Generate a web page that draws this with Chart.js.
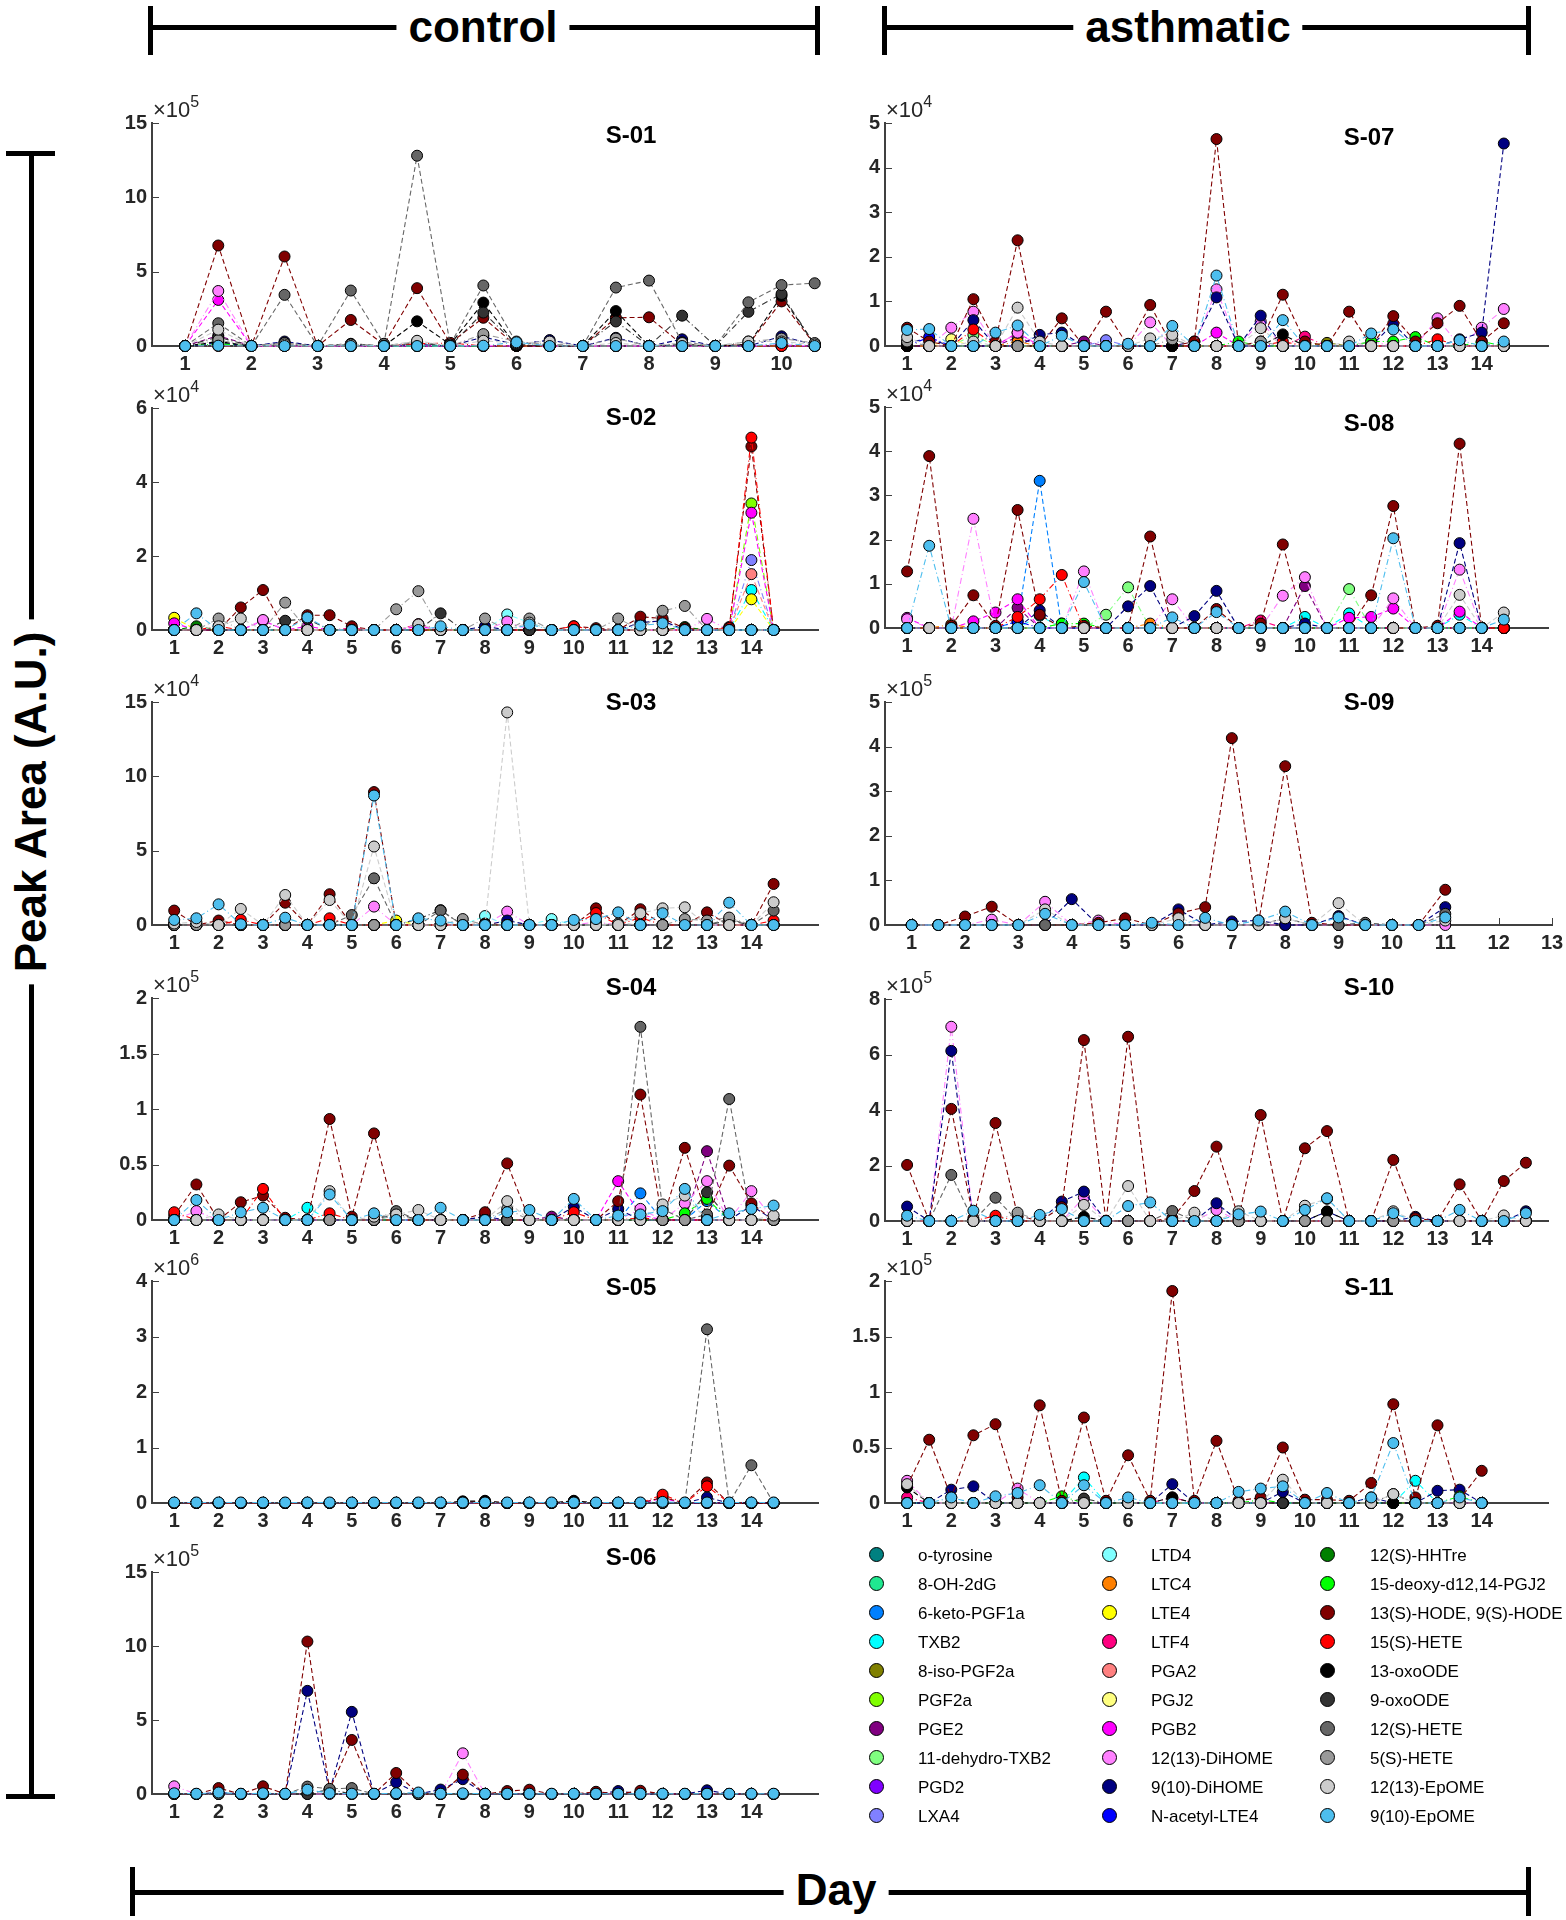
<!DOCTYPE html>
<html><head><meta charset="utf-8">
<script src="https://cdn.jsdelivr.net/npm/chart.js@4.4.1/dist/chart.umd.min.js"></script>
<style>
body{margin:0;background:#fff;width:1566px;height:1920px;position:relative;overflow:hidden;font-family:'Liberation Sans',Arial,sans-serif;}
.abs{position:absolute;}
canvas{position:absolute;}
.bar{position:absolute;background:#000;}
.hdr{position:absolute;font-weight:bold;font-size:44px;background:#fff;line-height:1;white-space:nowrap;transform:translate(-50%,-50%);padding:0 12px;color:#000;}
.ttl{position:absolute;font-weight:bold;font-size:24px;line-height:1;transform:translate(-50%,-50%);color:#000;}
.exp{position:absolute;font-size:22px;line-height:22px;color:#262626;white-space:nowrap;}
.exp sup{font-size:16px;position:relative;top:-5px;vertical-align:top;line-height:16px;}
.lgm{position:absolute;width:13px;height:13px;border:1.5px solid #000;border-radius:50%;}
.lgt{position:absolute;font-size:17px;line-height:1;color:#000;transform:translateY(-50%);white-space:nowrap;}
</style></head><body>
<script>
// ---------- series (legend) ----------
const seriesNames = ['o-tyrosine','8-OH-2dG','6-keto-PGF1a','TXB2','8-iso-PGF2a','PGF2a','PGE2','11-dehydro-TXB2','PGD2','LXA4',
 'LTD4','LTC4','LTE4','LTF4','PGA2','PGJ2','PGB2','12(13)-DiHOME','9(10)-DiHOME','N-acetyl-LTE4',
 '12(S)-HHTre','15-deoxy-d12,14-PGJ2','13(S)-HODE, 9(S)-HODE','15(S)-HETE','13-oxoODE','9-oxoODE','12(S)-HETE','5(S)-HETE','12(13)-EpOME','9(10)-EpOME'];
const seriesColors = ['#008080','#20e890','#0080ff','#00ffff','#808000','#80ff00','#800080','#80ff80','#8000ff','#8080ff',
 '#80ffff','#ff8000','#ffff00','#ff0080','#ff8080','#ffff80','#ff00ff','#ff80ff','#000080','#0000ff',
 '#008000','#00ff00','#800000','#ff0000','#000000','#333333','#666666','#999999','#cccccc','#4dbeee'];

// ---------- x positions (days) and tick labels ----------
const days_1_to_10_5 = [1,1.5,2,2.5,3,3.5,4,4.5,5,5.5,6,6.5,7,7.5,8,8.5,9,9.5,10,10.5];
const days_1_to_14_5 = [1,1.5,2,2.5,3,3.5,4,4.5,5,5.5,6,6.5,7,7.5,8,8.5,9,9.5,10,10.5,11,11.5,12,12.5,13,13.5,14,14.5];
const days_1_to_11 = [1,1.5,2,2.5,3,3.5,4,4.5,5,5.5,6,6.5,7,7.5,8,8.5,9,9.5,10,10.5,11];
const days_1_to_15 = [1,1.5,2,2.5,3,3.5,4,4.5,5,5.5,6,6.5,7,7.5,8,8.5,9,9.5,10,10.5,11,11.5,12,12.5,13,13.5,14,14.5,15];
const days_1_to_14 = [1,1.5,2,2.5,3,3.5,4,4.5,5,5.5,6,6.5,7,7.5,8,8.5,9,9.5,10,10.5,11,11.5,12,12.5,13,13.5,14];
const xTicks10 = [1,2,3,4,5,6,7,8,9,10];
const xTicks13 = [1,2,3,4,5,6,7,8,9,10,11,12,13];
const xTicks14 = [1,2,3,4,5,6,7,8,9,10,11,12,13,14];
const yTicks15 = [0,5,10,15];
const yTicks6 = [0,2,4,6];
const yTicks2 = [0,0.5,1,1.5,2];
const yTicks4 = [0,1,2,3,4];
const yTicks5 = [0,1,2,3,4,5];
const yTicks8 = [0,2,4,6,8];

// ---------- S-01 (x10^5) ----------
const S01_series = ['PGE2','PGB2','12(13)-DiHOME','9(10)-DiHOME','15-deoxy-d12,14-PGJ2','13(S)-HODE, 9(S)-HODE','15(S)-HETE','13-oxoODE','9-oxoODE','12(S)-HETE','5(S)-HETE','12(13)-EpOME','9(10)-EpOME'];
const S01_values = [
 [0,0.7,0,0,0,0,0,0,0,0,0,0,0,0,0,0,0,0,0,0],
 [0,3.1,0,0,0,0,0,0,0,0,0,0,0,0,0,0,0,0,0,0],
 [0,3.7,0,0,0,0,0,0.05,0,0.05,0,0,0,0,0,0,0,0,0.1,0],
 [0,0.2,0,0.3,0,0.05,0,0.1,0,0.6,0.1,0.4,0,0.55,0,0.45,0,0,0.65,0.1],
 [0,0.15,0,0,0,0,0,0,0,0,0,0,0,0,0,0,0,0,0,0],
 [0,6.76,0,6.02,0,1.75,0.1,3.89,0.2,1.9,0,0,0,1.9,1.93,0.1,0,0.1,3.0,0.1],
 [0,0,0,0,0,0,0,0.15,0.2,0,0,0,0,0,0,0,0,0,0,0],
 [0,0.3,0,0.1,0,0.15,0,1.66,0.1,2.92,0,0,0,2.35,0,0.1,0,0.1,3.37,0.1],
 [0,0.6,0,0.2,0,0.1,0,0.2,0,2.25,0.1,0,0,1.65,0,2.04,0,2.3,3.5,0.1],
 [0,1.53,0,3.44,0,3.73,0.15,12.8,0.1,4.07,0.2,0.1,0,3.93,4.4,0.25,0,2.94,4.1,4.22],
 [0,0.4,0,0.2,0,0.1,0,0.3,0,0.8,0.3,0.1,0,0.5,0,0.2,0,0.3,0.5,0.2],
 [0,1.1,0,0.1,0,0.1,0,0.35,0,0.35,0.2,0.3,0,0.2,0,0.2,0,0.3,0.3,0.1],
 [0,0.02,0,0,0,0,0,0,0,0.02,0.25,0,0,0,0,0,0,0,0.2,0]
];

// ---------- S-02 (x10^4) ----------
const S02_series = ['TXB2','PGF2a','LXA4','LTD4','LTE4','LTF4','PGA2','PGB2','12(13)-DiHOME','9(10)-DiHOME','12(S)-HHTre','13(S)-HODE, 9(S)-HODE','15(S)-HETE','9-oxoODE','5(S)-HETE','12(13)-EpOME','9(10)-EpOME'];
const S02_values = [
 [0,0, 0,0, 0,0, 0,0, 0,0, 0,0, 0,0, 0,0, 0,0, 0,0, 0,0, 0,0, 0,0, 1.08,0],
 [0,0, 0,0, 0,0, 0,0, 0,0, 0,0, 0,0, 0,0, 0,0, 0,0, 0,0, 0,0, 0,0, 3.42,0],
 [0,0, 0,0, 0,0, 0,0, 0,0, 0,0, 0,0, 0,0, 0,0, 0,0, 0,0, 0,0, 0,0, 1.89,0],
 [0,0, 0,0, 0,0, 0,0, 0,0, 0,0, 0,0, 0,0.42, 0.2,0, 0,0, 0,0, 0,0, 0,0, 0,0],
 [0.33,0, 0,0, 0,0, 0,0, 0,0, 0,0, 0,0, 0,0, 0,0, 0,0, 0,0, 0,0, 0,0, 0.83,0],
 [0,0, 0,0, 0,0, 0,0, 0.05,0, 0,0.16, 0,0, 0,0, 0,0, 0,0, 0,0, 0,0, 0,0, 0,0],
 [0,0, 0,0, 0,0, 0,0, 0,0, 0,0, 0,0, 0,0, 0,0, 0,0, 0,0, 0,0, 0,0, 1.51,0],
 [0.18,0, 0,0, 0.25,0, 0.1,0, 0,0, 0,0.1, 0,0, 0,0, 0,0, 0,0, 0,0, 0,0, 0,0, 3.17,0],
 [0,0, 0,0, 0.27,0, 0,0, 0,0, 0,0, 0,0, 0,0.23, 0,0, 0,0, 0,0, 0,0, 0.3,0, 0,0],
 [0,0, 0,0, 0,0, 0,0, 0,0, 0,0, 0,0, 0.1,0, 0,0, 0,0, 0,0.2, 0.25,0, 0,0, 0,0],
 [0,0.1, 0,0, 0,0, 0,0, 0,0, 0,0, 0,0, 0,0, 0,0, 0,0, 0,0, 0,0.08, 0,0, 0,0],
 [0,0, 0,0.61, 1.08,0, 0.4,0.4, 0.1,0, 0,0, 0,0, 0,0, 0,0, 0.1,0.05, 0,0.36, 0.31,0.05, 0,0.08, 4.96,0],
 [0,0, 0.1,0, 0,0, 0,0, 0,0, 0,0, 0,0, 0,0, 0,0, 0.1,0, 0,0, 0,0, 0,0.05, 5.2,0],
 [0,0, 0,0, 0,0.25, 0.3,0, 0,0, 0,0, 0.45,0, 0,0, 0,0, 0,0, 0,0, 0,0, 0,0, 0,0],
 [0,0, 0.31,0, 0,0.74, 0,0, 0,0, 0.56,1.05, 0,0, 0.31,0, 0.31,0, 0,0, 0.31,0, 0.52,0.65, 0,0, 0,0],
 [0,0, 0.1,0.31, 0,0, 0,0, 0,0, 0,0.15, 0,0, 0,0, 0.2,0, 0,0, 0,0, 0,0, 0,0, 0,0],
 [0,0.45, 0,0, 0,0, 0.34,0, 0,0, 0,0, 0.1,0, 0,0, 0.15,0, 0,0, 0,0.12, 0.18,0, 0,0, 0,0]
];

// ---------- S-03 (x10^4) ----------
const S03_series = ['LTD4','LTE4','12(13)-DiHOME','9(10)-DiHOME','13(S)-HODE, 9(S)-HODE','15(S)-HETE','9-oxoODE','12(S)-HETE','5(S)-HETE','12(13)-EpOME','9(10)-EpOME'];
const S03_values = [
 [0,0, 0,0, 0,0, 0,0, 0,0, 0,0, 0,0, 0.6,0, 0,0.4, 0,0, 0,0, 0,0, 0,0, 0,0],
 [0,0, 0,0, 0,0, 0,0, 0,0, 0.3,0, 0,0, 0,0, 0,0, 0,0, 0,0, 0,0, 0,0, 0,0],
 [0,0, 0,0, 0,0, 0,0, 0,1.24, 0,0, 0,0, 0,0.9, 0,0, 0,0.2, 0,0, 0,0, 0,0, 0,0],
 [0,0, 0,0, 0,0, 0,0, 0,0, 0,0, 0,0, 0,0.3, 0,0, 0,0, 0,0, 0,0, 0,0, 0,0],
 [0.97,0, 0.3,0, 0,1.5, 0,2.07, 0,8.94, 0,0, 0,0, 0.1,0, 0,0, 0,1.12, 0,1.06, 0,0, 0.85,0, 0,2.76],
 [0,0, 0,0.35, 0,0, 0,0.45, 0,0, 0,0, 0,0, 0,0, 0,0, 0,0.8, 0,0.5, 0,0, 0,0, 0,0.3],
 [0,0, 0,0, 0,0, 0,0, 0,0, 0,0.4, 1.0,0, 0,0, 0,0, 0,0, 0,0, 0,0, 0,0.3, 0,0],
 [0,0, 0,0, 0,0, 0,0, 0.67,3.14, 0,0, 0.97,0, 0,0, 0,0, 0,0, 0,0, 0,0, 0,0.4, 0,0.97],
 [0,0, 0,0, 0,0, 0,0, 0,0, 0,0, 0,0.4, 0,0, 0,0, 0,0, 0.1,0, 0,0.4, 0.3,0.5, 0,0],
 [0.1,0.2, 0,1.08, 0,2.02, 0,1.68, 0,5.28, 0,0, 0,0, 0,14.3, 0,0, 0,0, 0,0.79, 1.12,1.19, 0,0, 0,1.53],
 [0.34,0.45, 1.39,0.05, 0,0.49, 0,0, 0,8.71, 0,0.45, 0.3,0, 0,0, 0,0, 0.34,0.4, 0.85,0, 0.79,0, 0,1.5, 0,0]
];

// ---------- S-04 (x10^5) ----------
const S04_series = ['6-keto-PGF1a','TXB2','PGE2','PGB2','12(13)-DiHOME','9(10)-DiHOME','15-deoxy-d12,14-PGJ2','13(S)-HODE, 9(S)-HODE','15(S)-HETE','9-oxoODE','12(S)-HETE','5(S)-HETE','12(13)-EpOME','9(10)-EpOME'];
const S04_values = [
 [0,0, 0,0, 0,0, 0,0, 0,0, 0,0, 0,0, 0,0, 0,0, 0,0, 0,0.24, 0,0, 0.17,0, 0,0],
 [0,0, 0,0, 0,0, 0.11,0, 0,0, 0,0, 0,0, 0,0, 0,0, 0,0, 0,0, 0,0, 0,0, 0,0],
 [0,0, 0,0, 0,0, 0,0, 0,0, 0,0, 0,0, 0,0, 0,0.03, 0,0, 0,0, 0,0, 0.62,0, 0,0],
 [0,0, 0,0, 0,0, 0,0, 0,0, 0,0, 0,0, 0,0, 0,0, 0,0, 0.35,0.05, 0,0, 0,0, 0,0],
 [0,0.08, 0,0, 0,0, 0,0, 0,0, 0,0, 0,0, 0,0, 0,0, 0,0, 0,0.1, 0,0.15, 0.35,0, 0.26,0],
 [0,0, 0,0, 0,0, 0,0, 0,0, 0,0, 0,0, 0.03,0, 0,0, 0.12,0, 0.1,0, 0,0, 0,0, 0.13,0],
 [0,0, 0,0, 0,0, 0,0, 0,0, 0,0, 0,0, 0,0, 0,0, 0,0, 0,0, 0,0.06, 0.19,0, 0,0],
 [0.04,0.32, 0,0.16, 0.22,0.02, 0,0.91, 0.03,0.78, 0,0, 0,0, 0.07,0.51, 0,0, 0,0, 0.17,1.13, 0,0.65, 0.03,0.49, 0.15,0],
 [0.07,0, 0,0, 0.28,0, 0,0.06, 0,0, 0,0, 0,0, 0,0, 0,0, 0.07,0, 0,0.02, 0,0, 0,0, 0,0],
 [0,0, 0,0, 0,0, 0,0, 0,0, 0.06,0, 0,0, 0,0, 0,0, 0,0, 0,0, 0,0, 0.25,0, 0,0],
 [0,0, 0,0, 0,0, 0,0, 0,0, 0.08,0, 0,0, 0,0, 0,0, 0,0, 0,1.74, 0.1,0, 0.05,1.09, 0,0],
 [0,0, 0,0, 0,0, 0,0, 0,0, 0.04,0, 0,0, 0,0.1, 0,0, 0,0, 0,0, 0,0, 0,0, 0,0],
 [0,0, 0.05,0, 0,0, 0,0.26, 0,0.03, 0.05,0.09, 0,0, 0,0.17, 0,0, 0,0, 0,0, 0.14,0.22, 0,0, 0,0.04],
 [0,0.18, 0,0.07, 0.11,0, 0,0.23, 0,0.06, 0,0, 0.11,0, 0,0.07, 0.09,0, 0.19,0, 0.04,0.05, 0.08,0.28, 0,0.06, 0.1,0.13]
];

// ---------- S-05 (x10^6) ----------
const S05_series = ['PGB2','9(10)-DiHOME','13(S)-HODE, 9(S)-HODE','15(S)-HETE','13-oxoODE','12(S)-HETE','9(10)-EpOME'];
const S05_values = [
 [0,0, 0,0, 0,0, 0,0, 0,0, 0,0, 0,0, 0,0, 0,0, 0,0, 0,0, 0.08,0, 0,0, 0,0],
 [0,0, 0,0, 0,0, 0,0, 0,0, 0,0, 0,0, 0,0, 0,0, 0,0, 0,0, 0,0, 0.1,0, 0,0],
 [0,0, 0,0, 0,0, 0,0, 0,0, 0,0, 0,0.02, 0.03,0, 0,0, 0.03,0, 0,0, 0.1,0, 0.37,0, 0,0],
 [0,0, 0,0, 0,0, 0,0, 0,0, 0,0, 0,0, 0,0, 0,0, 0,0, 0,0, 0.15,0, 0.3,0, 0,0],
 [0,0, 0,0, 0,0, 0,0, 0,0, 0,0, 0,0.03, 0.04,0, 0,0, 0.04,0, 0,0, 0,0, 0,0, 0,0],
 [0,0, 0,0, 0,0, 0,0, 0,0, 0,0, 0,0, 0,0, 0,0, 0,0, 0,0, 0,0, 3.13,0, 0.68,0],
 [0.01,0.01, 0.01,0.01, 0.01,0.01, 0.01,0.01, 0.01,0.01, 0.01,0.01, 0.01,0.01, 0.01,0.01, 0.01,0.01, 0.01,0.01, 0.01,0.01, 0.02,0.01, 0.01,0.01, 0.01,0.01]
];

// ---------- S-06 (x10^5) ----------
const S06_series = ['12(13)-DiHOME','9(10)-DiHOME','13(S)-HODE, 9(S)-HODE','9-oxoODE','12(S)-HETE','9(10)-EpOME'];
const S06_values = [
 [0.52,0, 0,0, 0,0, 0,0, 0,0, 0,0, 0,2.75, 0,0, 0,0, 0,0, 0,0, 0,0, 0,0, 0,0],
 [0,0, 0.1,0, 0,0, 6.97,0.2, 5.55,0, 0.79,0, 0.3,1.0, 0,0, 0,0, 0,0, 0.2,0, 0,0, 0.25,0, 0,0],
 [0,0, 0.4,0, 0.52,0, 10.3,0.3, 3.65,0, 1.42,0, 0,1.31, 0,0.2, 0.29,0, 0,0.15, 0,0.22, 0,0, 0,0, 0,0],
 [0,0, 0,0, 0,0, 0,0.3, 0,0, 0,0.05, 0,0, 0,0, 0,0, 0,0, 0,0, 0,0, 0,0, 0,0],
 [0,0, 0,0, 0,0, 0.5,0.35, 0.4,0, 0,0, 0,0, 0,0, 0,0, 0,0, 0,0, 0,0, 0,0, 0,0],
 [0.05,0.02, 0.1,0.02, 0.05,0.02, 0.29,0.05, 0.02,0.02, 0.05,0.1, 0.02,0.05, 0.02,0.02, 0.02,0.02, 0.02,0.02, 0.02,0.02, 0.02,0.02, 0.02,0.02, 0.02,0.02]
];

// ---------- S-07 (x10^4) ----------
const S07_series = ['8-iso-PGF2a','PGE2','11-dehydro-TXB2','LXA4','LTC4','LTF4','PGJ2','PGB2','12(13)-DiHOME','9(10)-DiHOME','N-acetyl-LTE4','15-deoxy-d12,14-PGJ2','13(S)-HODE, 9(S)-HODE','15(S)-HETE','13-oxoODE','5(S)-HETE','12(13)-EpOME','9(10)-EpOME'];
const S07_values = [
 [0,0, 0,0, 0,0, 0,0, 0,0, 0,0, 0,0, 0,0, 0,0, 0,0.07, 0,0, 0,0, 0,0, 0,0],
 [0,0, 0,0, 0,0.2, 0,0, 0.1,0, 0,0, 0,0, 0,0, 0,0, 0,0, 0,0, 0,0, 0,0, 0,0],
 [0,0, 0,0.25, 0,0, 0,0, 0,0, 0,0, 0,0, 0,0, 0,0, 0,0, 0,0, 0,0, 0,0, 0,0],
 [0,0, 0,0, 0,0, 0,0, 0,0.13, 0,0, 0,0, 0,0, 0,0, 0,0, 0,0, 0,0, 0,0, 0,0],
 [0,0, 0,0, 0,0.1, 0,0, 0,0, 0,0, 0,0, 0,0, 0,0, 0,0, 0,0, 0,0, 0,0, 0,0],
 [0,0, 0,0, 0,0, 0,0, 0,0, 0,0, 0,0, 0,0, 0,0, 0.21,0, 0,0, 0,0, 0,0, 0,0],
 [0,0, 0.15,0, 0,0, 0,0, 0,0, 0,0, 0,0, 0,0, 0,0, 0,0, 0,0, 0,0, 0,0, 0,0],
 [0,0, 0,0, 0,0.3, 0,0, 0,0, 0,0, 0,0, 0.3,0, 0,0, 0,0, 0,0, 0,0, 0,0, 0,0],
 [0,0, 0.41,0.77, 0,0.3, 0,0, 0,0, 0,0.53, 0,0, 1.27,0, 0.55,0, 0,0, 0,0.1, 0,0, 0.62,0, 0.41,0.83],
 [0.1,0.15, 0,0.58, 0,0, 0.25,0.3, 0,0, 0,0, 0,0.1, 1.09,0, 0.68,0, 0,0, 0,0, 0.5,0, 0,0.15, 0.3,4.54],
 [0,0.2, 0,0, 0,0, 0,0, 0,0, 0,0, 0,0, 0,0, 0,0, 0,0, 0,0, 0,0, 0,0, 0,0],
 [0,0, 0,0, 0,0, 0,0, 0,0, 0,0, 0,0, 0,0.1, 0,0, 0,0, 0,0.1, 0.1,0.2, 0,0, 0.1,0],
 [0.41,0.1, 0,1.05, 0.1,2.37, 0,0.62, 0,0.77, 0,0.92, 0,0.1, 4.64,0, 0.1,1.15, 0.1,0, 0.77,0, 0.67,0.1, 0.51,0.9, 0.1,0.51],
 [0,0, 0,0.37, 0,0, 0,0, 0,0, 0,0, 0,0, 0,0, 0,0.1, 0,0, 0,0, 0,0, 0.15,0, 0,0],
 [0,0, 0,0, 0,0, 0,0, 0,0, 0,0, 0,0, 0,0, 0,0.26, 0,0, 0,0, 0,0, 0,0, 0,0],
 [0.1,0, 0,0, 0,0, 0,0, 0,0, 0,0, 0.15,0, 0,0, 0.1,0, 0,0, 0,0, 0,0, 0,0, 0,0],
 [0.2,0, 0,0.1, 0,0.86, 0.1,0, 0,0, 0,0.17, 0.25,0, 0,0, 0.4,0, 0,0, 0.1,0, 0,0, 0,0, 0,0],
 [0.36,0.38, 0,0, 0.3,0.46, 0,0.23, 0,0, 0.05,0, 0.45,0, 1.58,0, 0,0.58, 0,0, 0,0.28, 0.37,0, 0,0.13, 0,0.1]
];

// ---------- S-08 (x10^4) ----------
const S08_series = ['6-keto-PGF1a','TXB2','PGE2','11-dehydro-TXB2','LTC4','LTF4','PGB2','12(13)-DiHOME','9(10)-DiHOME','N-acetyl-LTE4','15-deoxy-d12,14-PGJ2','13(S)-HODE, 9(S)-HODE','15(S)-HETE','12(13)-EpOME','9(10)-EpOME'];
const S08_values = [
 [0,0, 0,0, 0,0.15, 3.33,0, 0,0, 0,0, 0,0, 0,0, 0,0, 0,0, 0,0, 0,0, 0,0, 0,0],
 [0,0, 0,0, 0,0, 0.28,0, 0,0, 0,0, 0,0, 0,0, 0,0, 0.25,0, 0.33,0, 0,0, 0,0.3, 0,0],
 [0,0, 0,0, 0,0.46, 0,0, 0,0, 0,0, 0,0, 0,0, 0,0, 0.95,0, 0,0, 0,0, 0,0, 0,0],
 [0,0, 0,0, 0,0, 0,0.1, 0,0.3, 0.92,0, 0,0, 0,0, 0,0, 0,0, 0.88,0, 0,0, 0,0, 0,0],
 [0,0, 0.08,0, 0,0, 0,0, 0,0, 0,0.1, 0,0, 0,0, 0,0, 0,0, 0,0, 0,0, 0,0, 0,0],
 [0,0, 0,0, 0,0, 0,0, 0,0, 0,0, 0,0, 0,0, 0.17,0, 0,0, 0,0, 0,0, 0,0, 0,0],
 [0.23,0, 0,0.15, 0.35,0.65, 0,0, 0,0, 0,0, 0,0, 0,0, 0,0, 0,0, 0.23,0.25, 0.44,0, 0,0.37, 0,0],
 [0.2,0, 0,2.47, 0,0, 0,0, 1.28,0, 0,0, 0.65,0, 0,0, 0,0.73, 1.15,0, 0,0, 0.67,0, 0,1.32, 0,0],
 [0,0, 0,0, 0,0, 0.4,0, 0,0, 0.49,0.95, 0,0.27, 0.84,0, 0,0, 0.1,0, 0,0, 0,0, 0,1.92, 0,0],
 [0,0, 0,0, 0,0.15, 0,0, 0,0, 0,0, 0,0, 0,0, 0,0, 0,0, 0,0, 0,0, 0,0, 0,0],
 [0,0, 0,0, 0,0, 0,0.1, 0.1,0, 0,0, 0,0, 0,0, 0,0, 0,0, 0,0, 0,0, 0,0, 0,0],
 [1.28,3.89, 0.05,0.74, 0.05,2.67, 0.3,0, 0.05,0, 0,2.07, 0,0, 0.43,0, 0.1,1.89, 0,0, 0,0.74, 2.76,0, 0.05,4.17, 0,0],
 [0,0, 0,0, 0,0.25, 0.65,1.2, 0,0, 0,0, 0,0, 0,0, 0,0, 0,0, 0,0, 0,0, 0,0, 0,0],
 [0,0, 0,0, 0,0, 0,0, 0,0, 0,0, 0,0, 0,0, 0,0, 0,0, 0,0, 0,0, 0,0.75, 0,0.35],
 [0,1.86, 0,0, 0,0, 0,0, 1.04,0, 0,0, 0.24,0, 0.36,0, 0,0, 0,0, 0,0, 2.03,0, 0,0, 0,0.19]
];

// ---------- S-09 (x10^5) ----------
const S09_series = ['12(13)-DiHOME','9(10)-DiHOME','13(S)-HODE, 9(S)-HODE','12(S)-HETE','12(13)-EpOME','9(10)-EpOME'];
const S09_values = [
 [0,0,0,0.12,0,0.52,0,0.1,0,0,0,0,0,0,0,0,0,0,0,0,0],
 [0,0,0,0,0,0,0.58,0,0,0,0.35,0,0.08,0.1,0,0,0.2,0,0,0,0.4],
 [0,0,0.19,0.41,0,0,0,0.05,0.15,0,0.26,0.4,4.19,0.05,3.56,0.05,0,0,0,0,0.79],
 [0,0,0,0,0,0,0,0,0,0,0,0,0,0,0.15,0,0,0.05,0,0,0.25],
 [0,0,0,0,0,0.35,0,0,0,0,0.15,0,0,0,0.15,0,0.49,0,0,0,0.1],
 [0,0,0,0,0,0.25,0,0,0,0.05,0,0.16,0,0.1,0.3,0,0.17,0,0,0,0.17]
];

// ---------- S-10 (x10^5) ----------
const S10_series = ['12(13)-DiHOME','9(10)-DiHOME','13(S)-HODE, 9(S)-HODE','15(S)-HETE','13-oxoODE','12(S)-HETE','5(S)-HETE','12(13)-EpOME','9(10)-EpOME'];
const S10_values = [
 [0,0,7.0,0,0,0,0,0,0.85,0,0,0,0,0,0.4,0,0,0,0,0,0,0,0,0,0,0,0,0,0],
 [0.52,0,6.13,0,0,0,0,0.7,1.06,0,0,0,0,0,0.64,0,0,0,0,0.34,0,0,0,0.15,0,0,0,0,0.35],
 [2.02,0,4.04,0.1,3.53,0.2,0,0.5,6.52,0,6.64,0,0.1,1.08,2.68,0.1,3.82,0,2.62,3.24,0,0,2.2,0.1,0,1.32,0,1.44,2.1],
 [0,0,0,0,0.19,0,0,0,0,0,0,0,0,0,0,0,0,0,0,0,0,0,0,0,0,0,0,0,0],
 [0,0,0,0,0,0,0,0,0.15,0,0,0,0,0,0,0,0,0,0,0.34,0,0,0,0,0,0,0,0,0],
 [0,0,1.66,0,0.84,0,0,0,0,0,0,0,0.36,0,0,0,0,0,0,0,0,0,0,0,0,0,0,0,0],
 [0,0,0,0,0,0.3,0,0,0,0,0,0,0,0,0,0,0,0,0,0,0,0,0,0,0,0,0,0,0],
 [0,0,0,0,0,0,0,0,0.58,0,1.26,0,0,0.3,0,0.35,0,0,0.55,0.8,0,0,0.35,0,0,0,0,0.2,0],
 [0.19,0,0,0.37,0,0,0.22,0.43,0,0,0.54,0.67,0,0,0,0.24,0.34,0,0.4,0.82,0,0,0.28,0,0,0.4,0,0,0.28]
];

// ---------- S-11 (x10^5) ----------
const S11_series = ['TXB2','LTF4','12(13)-DiHOME','9(10)-DiHOME','15-deoxy-d12,14-PGJ2','13(S)-HODE, 9(S)-HODE','13-oxoODE','9-oxoODE','12(13)-EpOME','9(10)-EpOME'];
const S11_values = [
 [0,0,0,0,0,0,0,0,0.23,0,0,0,0,0,0,0,0,0,0,0,0,0,0,0.2,0,0,0],
 [0.05,0,0,0,0,0,0,0,0,0,0,0,0.05,0,0,0,0,0,0,0,0,0,0,0,0,0,0],
 [0.2,0,0,0,0,0.13,0,0,0,0,0,0,0,0,0,0,0,0,0,0,0,0,0,0,0,0,0],
 [0,0,0.12,0.15,0,0,0,0,0,0,0,0,0.17,0,0,0,0,0.1,0,0,0,0.05,0,0,0.11,0.12,0],
 [0,0,0,0,0,0,0,0.06,0,0,0,0,0,0,0,0,0.03,0,0,0,0,0,0,0,0,0.06,0],
 [0.15,0.57,0.05,0.61,0.71,0.05,0.88,0.02,0.77,0.02,0.43,0.02,1.91,0.02,0.56,0.02,0.05,0.5,0.03,0.03,0.02,0.18,0.89,0.05,0.7,0.03,0.29],
 [0.14,0,0,0,0,0,0,0,0,0,0,0,0.05,0,0,0,0,0,0,0,0,0,0,0,0,0,0],
 [0,0,0,0,0,0,0,0,0.04,0,0,0,0,0,0,0,0,0,0,0,0,0,0.08,0,0,0,0],
 [0.17,0,0,0,0,0,0,0,0,0,0,0,0,0,0,0,0,0.21,0,0,0,0,0.08,0,0,0,0],
 [0,0,0.05,0,0.06,0.09,0.16,0,0.16,0,0.05,0,0,0,0,0.1,0.13,0.15,0,0.09,0,0.05,0.54,0,0,0.05,0]
];

// ---------- panel definitions (data refs + layout) ----------
const panels = [
 {name:'S-01', exp:5, days:days_1_to_10_5, series:S01_series, values:S01_values, xticks:xTicks10, yticks:yTicks15, xmax:10.55, left:152, right:818, top:123, bottom:346, ty:135},
 {name:'S-02', exp:4, days:days_1_to_14_5, series:S02_series, values:S02_values, xticks:xTicks14, yticks:yTicks6, xmax:15.5, left:152, right:818, top:408, bottom:630, ty:417},
 {name:'S-03', exp:4, days:days_1_to_14_5, series:S03_series, values:S03_values, xticks:xTicks14, yticks:yTicks15, xmax:15.5, left:152, right:818, top:702, bottom:925, ty:702},
 {name:'S-04', exp:5, days:days_1_to_14_5, series:S04_series, values:S04_values, xticks:xTicks14, yticks:yTicks2, xmax:15.5, left:152, right:818, top:998, bottom:1220, ty:987},
 {name:'S-05', exp:6, days:days_1_to_14_5, series:S05_series, values:S05_values, xticks:xTicks14, yticks:yTicks4, xmax:15.5, left:152, right:818, top:1281, bottom:1503, ty:1287},
 {name:'S-06', exp:5, days:days_1_to_14_5, series:S06_series, values:S06_values, xticks:xTicks14, yticks:yTicks15, xmax:15.5, left:152, right:818, top:1572, bottom:1794, ty:1557},
 {name:'S-07', exp:4, days:days_1_to_14_5, series:S07_series, values:S07_values, xticks:xTicks14, yticks:yTicks5, xmax:15.5, left:885, right:1548, top:123, bottom:346, ty:137},
 {name:'S-08', exp:4, days:days_1_to_14_5, series:S08_series, values:S08_values, xticks:xTicks14, yticks:yTicks5, xmax:15.5, left:885, right:1548, top:407, bottom:628, ty:423},
 {name:'S-09', exp:5, days:days_1_to_11, series:S09_series, values:S09_values, xticks:xTicks13, yticks:yTicks5, xmax:13, left:885, right:1552, top:702, bottom:925, ty:702},
 {name:'S-10', exp:5, days:days_1_to_15, series:S10_series, values:S10_values, xticks:xTicks14, yticks:yTicks8, xmax:15.5, left:885, right:1548, top:999, bottom:1221, ty:987},
 {name:'S-11', exp:5, days:days_1_to_14, series:S11_series, values:S11_values, xticks:xTicks14, yticks:yTicks2, xmax:15.5, left:885, right:1548, top:1281, bottom:1503, ty:1287}
];

const FONT = "'Liberation Sans', Arial, sans-serif";
const AXIS_COLOR = '#404040';

const inwardTicks = {
  id: 'inwardTicks',
  beforeDatasetsDraw(chart, args, opts) {
    const {ctx, chartArea, scales} = chart;
    ctx.save();
    ctx.strokeStyle = AXIS_COLOR; ctx.lineWidth = 1;
    ctx.beginPath();
    opts.xticks.forEach(v => { const px = Math.round(scales.x.getPixelForValue(v)) + 0.5; ctx.moveTo(px, chartArea.bottom); ctx.lineTo(px, chartArea.bottom - 7); });
    opts.yticks.forEach(v => { const py = Math.round(scales.y.getPixelForValue(v)) + 0.5; ctx.moveTo(chartArea.left, py); ctx.lineTo(chartArea.left + 7, py); });
    ctx.stroke();
    ctx.restore();
  }
};

function fmt(v){ return String(Math.round(v*100)/100); }

function makePanel(p) {
  const PADL = 70, PADT = 26, PADR = 24, PADB = 44;
  const w = (p.right - p.left) + PADL + PADR;
  const h = (p.bottom - p.top) + PADT + PADB;
  const cv = document.createElement('canvas');
  cv.width = w; cv.height = h;
  cv.style.width = w + 'px'; cv.style.height = h + 'px';
  cv.style.left = (p.left - PADL) + 'px'; cv.style.top = (p.top - PADT) + 'px';
  document.body.appendChild(cv);
  const datasets = p.series.map((nm, k) => {
    const si = seriesNames.indexOf(nm);
    const col = seriesColors[si];
    return {
      label: nm,
      data: p.days.map((d, i) => ({x: d, y: p.values[k][i]})),
      borderColor: col, backgroundColor: col,
      pointBackgroundColor: col, pointBorderColor: '#000', pointBorderWidth: 1,
      pointRadius: 5.5, pointHoverRadius: 5.5, borderWidth: 1.1,
      borderDash: (si % 2 === 0) ? [5, 3] : [6, 3, 1, 3],
      order: 100 - si, tension: 0, fill: false, clip: false
    };
  });
  const tickFont = {family: FONT, size: 20, weight: 'bold'};
  const chart = new Chart(cv, {
    type: 'line',
    data: {datasets},
    options: {
      responsive: false, animation: false, devicePixelRatio: 1,
      events: [],
      layout: {padding: {left: 0, top: PADT, right: PADR, bottom: 0}},
      plugins: {legend: {display: false}, tooltip: {enabled: false}, title: {display: false},
                inwardTicks: {xticks: p.xticks, yticks: p.yticks}},
      scales: {
        x: {type: 'linear', bounds: 'data', min: 0.5, max: p.xmax,
            afterBuildTicks: s => { s.ticks = p.xticks.map(v => ({value: v})); },
            afterFit: s => { s.height = PADB; },
            grid: {display: false, drawTicks: false},
            border: {display: true, color: AXIS_COLOR, width: 2},
            ticks: {padding: 6, color: '#262626', font: tickFont, autoSkip: false, maxRotation: 0, callback: v => fmt(v)}},
        y: {type: 'linear', bounds: 'data', min: 0, max: p.yticks[p.yticks.length - 1],
            afterBuildTicks: s => { s.ticks = p.yticks.map(v => ({value: v})); },
            afterFit: s => { s.width = PADL; },
            grid: {display: false, drawTicks: false},
            border: {display: true, color: AXIS_COLOR, width: 2},
            ticks: {padding: 5, color: '#262626', font: tickFont, autoSkip: false, callback: v => fmt(v)}}
      }
    },
    plugins: [inwardTicks]
  });
  // align chart area exactly with target box
  const ca = chart.chartArea;
  cv.style.left = (p.left - ca.left) + 'px';
  cv.style.top = (p.top - ca.top) + 'px';

  // exponent label
  const ex = document.createElement('div');
  ex.className = 'exp';
  ex.innerHTML = '\u00d710<sup>' + p.exp + '</sup>';
  ex.style.left = (p.left + 1) + 'px';
  ex.style.top = (p.top - 24) + 'px';
  document.body.appendChild(ex);
  // title
  const t = document.createElement('div');
  t.className = 'ttl'; t.textContent = p.name;
  t.style.left = ((p.left < 500) ? 631 : 1369) + 'px';
  t.style.top = p.ty + 'px';
  document.body.appendChild(t);
}

panels.forEach(makePanel);

// ---------- brackets & big labels ----------
function bar(x, y, w, h) { const d = document.createElement('div'); d.className = 'bar'; d.style.left = x + 'px'; d.style.top = y + 'px'; d.style.width = w + 'px'; d.style.height = h + 'px'; document.body.appendChild(d); }
function hdr(text, cx, cy, rot) { const d = document.createElement('div'); d.className = 'hdr'; d.textContent = text; d.style.left = cx + 'px'; d.style.top = cy + 'px'; if (rot) d.style.transform = 'translate(-50%,-50%) rotate(-90deg)'; document.body.appendChild(d); }
// control
bar(150, 25, 668, 5); bar(148, 6, 5, 49); bar(815, 6, 5, 49); hdr('control', 483, 27);
// asthmatic
bar(884, 25, 645, 5); bar(882, 6, 5, 49); bar(1526, 6, 5, 49); hdr('asthmatic', 1188, 27);
// Peak Area
bar(29, 153, 5, 1644); bar(6, 151, 49, 5); bar(6, 1794, 49, 5); hdr('Peak Area (A.U.)', 31, 802, true);
// Day
bar(132, 1890, 1397, 5); bar(130, 1867, 5, 49); bar(1526, 1867, 5, 49); hdr('Day', 836, 1890);

// ---------- legend ----------
const legColX = [877, 1110, 1328];
const legTextX = [918, 1151, 1370];
seriesNames.forEach((nm, i) => {
  const c = Math.floor(i / 10), r = i % 10;
  const cy = 1555 + r * 29.0;
  const m = document.createElement('div');
  m.className = 'lgm'; m.style.background = seriesColors[i];
  m.style.left = (legColX[c] - 8) + 'px'; m.style.top = (cy - 8) + 'px';
  document.body.appendChild(m);
  const t = document.createElement('div');
  t.className = 'lgt'; t.textContent = nm;
  t.style.left = legTextX[c] + 'px'; t.style.top = cy + 'px';
  document.body.appendChild(t);
});
</script>
</body></html>
